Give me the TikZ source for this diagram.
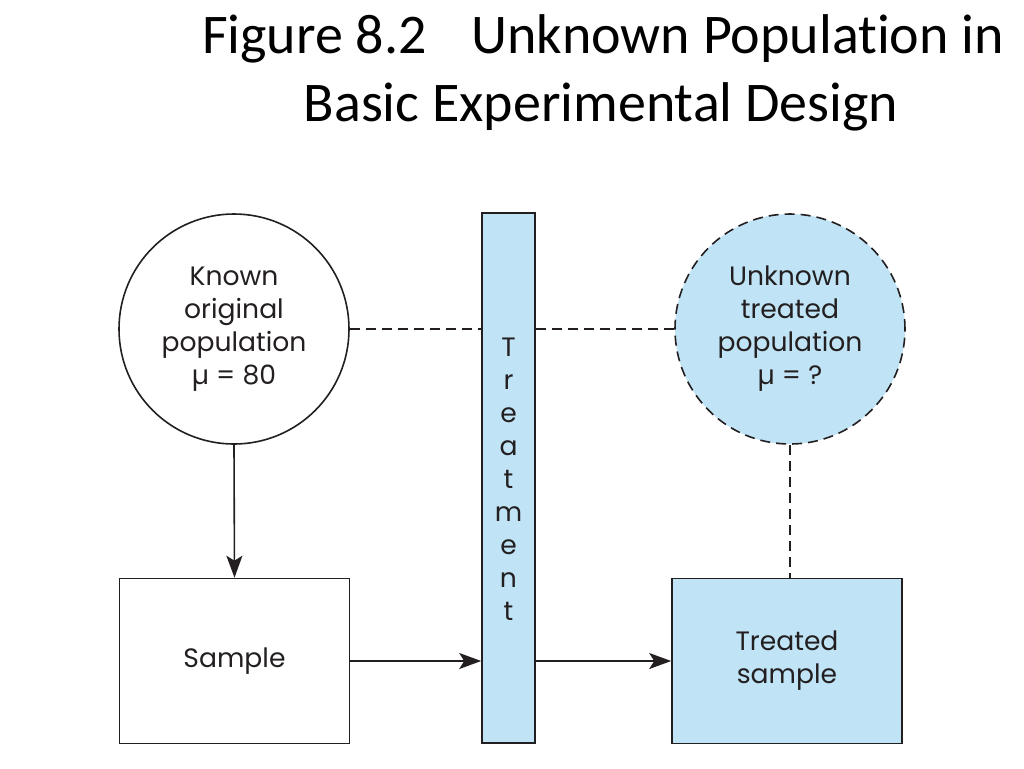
\documentclass[tikz,border=0pt]{standalone}
\usepackage{fontspec}
\setmainfont{Carlito}[Ligatures=NoCommon]
\newfontfamily\diagfont{Poppins}
\usetikzlibrary{arrows.meta}
\definecolor{treatblue}{RGB}{192,228,246}
\definecolor{inkgray}{RGB}{35,31,32}

\begin{document}
\begin{tikzpicture}[x=0.5pt,y=-0.5pt,
  every node/.style={font=\diagfont\fontsize{13.3}{16.5}\selectfont, text=inkgray},
  title/.style={font=\fontsize{28}{34}\selectfont, text=black},
  pop/.style={circle, draw=inkgray, line width=0.8pt, minimum size=115pt, inner sep=0pt, align=center},
  box/.style={rectangle, draw=inkgray, line width=0.8pt, minimum width=115pt, minimum height=82.5pt, align=center},
  link/.style={draw=inkgray, line width=0.8pt},
  dashlink/.style={link, dash pattern=on 5pt off 3pt},
  flow/.style={link, -{Stealth[length=11pt,width=8pt,inset=2.5pt]}}]
\useasboundingbox (0,0) rectangle (1024,768);
% title
\node[title, anchor=base] (title1) at (603,53) {Figure 8.2\hspace{0.8em}Unknown Population in};
\node[title, anchor=base] (title2) at (601,121) {Basic Experimental Design};
%% populations
\node[pop] (known) at (234,329) {Known\\original\\population\\µ = 80};
\node[pop, fill=treatblue, dash pattern=on 5pt off 3pt] (unknown) at (790,329) {Unknown\\treated\\population\\µ = ?};
%% treatment bar
\node[draw=inkgray, line width=0.8pt, fill=treatblue, minimum width=26.5pt, minimum height=265pt, inner sep=0pt] (treat) at (508.5,478) {};
\foreach \ch [count=\i from 0] in {T,r,e,a,t,m,e,n,t}
  \node[anchor=base] (let\i) at (508.5,356+33*\i) {\ch};
%% samples
\node[box] (sample) at (234.5,661) {Sample};
\node[box, fill=treatblue] (treated) at (787,661) {Treated\\sample};
%% connectors
\draw[dashlink] (known.east) -- (known.east -| treat.west);
\draw[dashlink] (treat.east |- unknown.west) -- (unknown.west);
\draw[dashlink] (unknown.south) -- (unknown.south |- treated.north);
\draw[flow] (known.south) -- (sample.north);
\draw[flow] (sample.east) -- (sample.east -| treat.west);
\draw[flow] (sample.east -| treat.east) -- (treated.west);
\end{tikzpicture}
\end{document}
